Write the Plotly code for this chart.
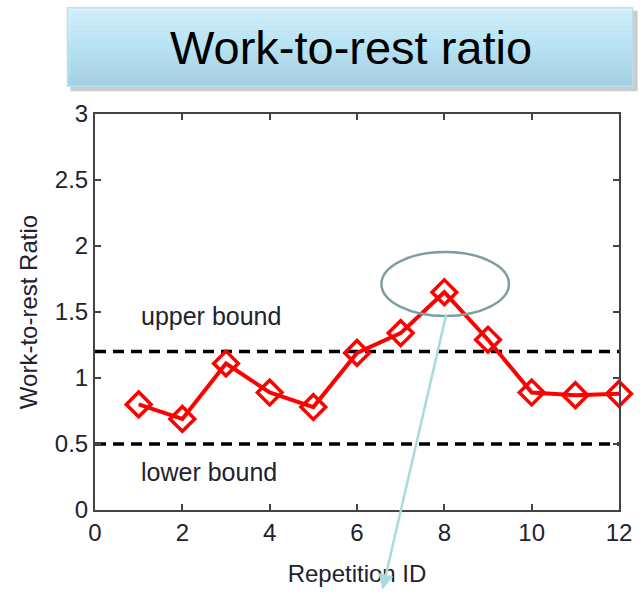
import plotly.graph_objects as go

# data
repetition = [1, 2, 3, 4, 5, 6, 7, 8, 9, 10, 11, 12]
ratio = [0.80, 0.69, 1.11, 0.89, 0.78, 1.19, 1.34, 1.65, 1.29, 0.89, 0.87, 0.88]
upper_bound = 1.2
lower_bound = 0.5
x_ticks = [0, 2, 4, 6, 8, 10, 12]
y_ticks = [0, 0.5, 1, 1.5, 2, 2.5, 3]
y_tick_text = ["0", "0.5", "1", "1.5", "2", "2.5", "3"]

FONT = "Liberation Sans, Arial, sans-serif"
TXT = "#22222e"
W, H = 644, 595
L, R, T, B = 95, 15, 114, 82


def px_to_paper(px, py):
    pw = W - L - R
    ph = H - T - B
    return (px - L) / pw, (H - B - py) / ph


fig = go.Figure()

# bound lines
for yb in (upper_bound, lower_bound):
    fig.add_trace(go.Scatter(
        x=[x_ticks[0], x_ticks[-1]], y=[yb, yb], mode="lines",
        line=dict(color="black", width=3.5, dash="11px,7px"),
        hoverinfo="skip", showlegend=False,
    ))

fig.add_trace(go.Scatter(
    x=repetition, y=ratio, mode="lines+markers",
    line=dict(color="#ff0000", width=4),
    marker=dict(symbol="diamond-open", size=19, color="#ff0000",
                line=dict(color="#ff0000", width=3.5)),
    cliponaxis=False, showlegend=False,
))

shapes = []
# title box: shadow + gradient strips
x0, y0 = px_to_paper(67, 7)
x1, y1 = px_to_paper(643, 86)
sx0, sy0 = px_to_paper(70, 10)
sx1, sy1 = px_to_paper(648, 91)
shapes.append(dict(type="rect", xref="paper", yref="paper", x0=sx0, x1=sx1,
                   y0=sy1, y1=sy0, fillcolor="rgba(0,0,0,0.2)",
                   line=dict(width=0), layer="below"))
top_c = (214, 241, 252)
bot_c = (150, 212, 238)
n = 40
for i in range(n):
    t = i / (n - 1)
    c = tuple(int(round(top_c[k] + (bot_c[k] - top_c[k]) * t)) for k in range(3))
    ya = y0 + (y1 - y0) * i / n
    yb = y0 + (y1 - y0) * (i + 1) / n
    shapes.append(dict(type="rect", xref="paper", yref="paper", x0=x0, x1=x1,
                       y0=yb, y1=ya, fillcolor="rgb(%d,%d,%d)" % c,
                       line=dict(width=0), layer="below"))
shapes.append(dict(type="rect", xref="paper", yref="paper", x0=x0, x1=x1,
                   y0=y1, y1=y0, line=dict(color="#b9e0ea", width=1.5)))

# ellipse around the peak
shapes.append(dict(type="circle", xref="x", yref="y", x0=6.56, x1=9.48,
                   y0=1.47, y1=1.955, line=dict(color="#7f9ea2", width=2.5)))

tx, ty = px_to_paper(356, 47)
hx, hy = px_to_paper(388, 593)
annotations = [
    dict(text="Work-to-rest ratio", xref="paper", yref="paper", x=tx, y=ty,
         xanchor="center", yanchor="middle", showarrow=False,
         font=dict(family=FONT, size=47, color="black")),
    dict(text="upper bound", x=1.0, y=1.47, xanchor="left", yanchor="middle",
         showarrow=False, font=dict(family=FONT, size=25, color=TXT)),
    dict(text="lower bound", x=1.0, y=0.29, xanchor="left", yanchor="middle",
         showarrow=False, font=dict(family=FONT, size=25, color=TXT)),
    dict(text="", xref="paper", yref="paper", x=hx, y=hy, showarrow=True,
         axref="pixel", ayref="pixel", ax=64, ay=-276,
         arrowcolor="#a9dadd", arrowwidth=2.5, arrowhead=2, arrowsize=1.2),
]

fig.update_layout(
    width=W, height=H,
    margin=dict(l=L, r=R, t=T, b=B),
    paper_bgcolor="white", plot_bgcolor="white",
    shapes=shapes, annotations=annotations,
    font=dict(family=FONT, color=TXT),
    xaxis=dict(
        range=[0, 12], tickvals=x_ticks, ticks="inside", ticklen=6,
        tickcolor="#444", tickwidth=1.5,
        showline=True, linecolor="#444", linewidth=2, mirror="ticks",
        showgrid=False, zeroline=False, tickfont=dict(size=24),
        title=dict(text="Repetition ID", font=dict(size=24), standoff=20),
    ),
    yaxis=dict(
        range=[0, 3], tickvals=y_ticks, ticktext=y_tick_text, ticks="inside",
        ticklen=6, tickcolor="#444", tickwidth=1.5,
        showline=True, linecolor="#444", linewidth=2, mirror="ticks",
        showgrid=False, zeroline=False, tickfont=dict(size=24),
        title=dict(text="Work-to-rest Ratio", font=dict(size=24), standoff=10),
    ),
)

fig.write_html(
    "out.html",
    config={"displayModeBar": False},
    post_script=("document.body.style.margin='0';"
                 "document.documentElement.style.overflow='hidden';"),
)
